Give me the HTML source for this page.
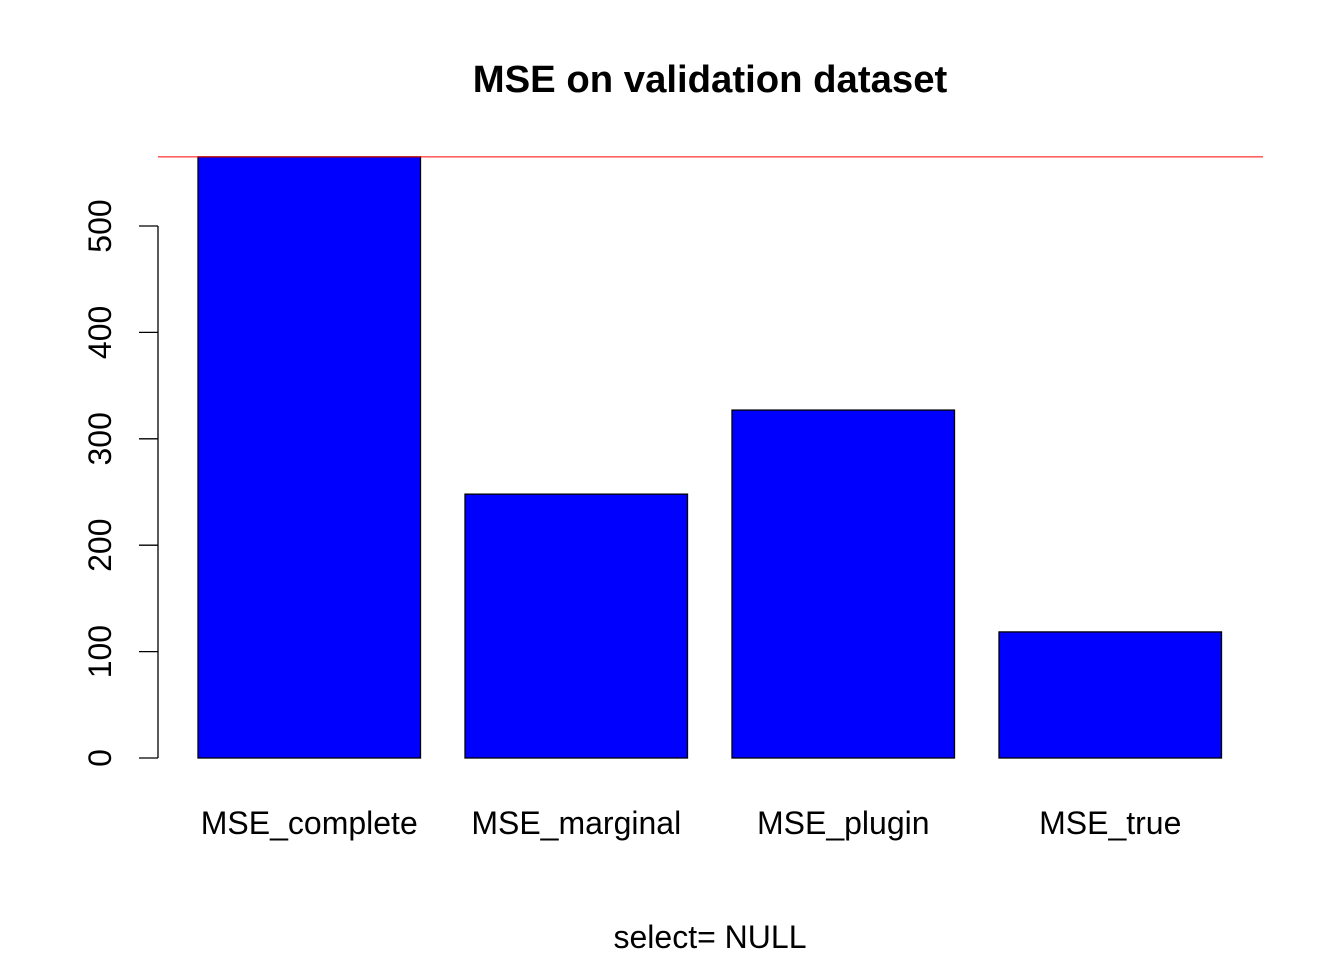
<!DOCTYPE html>
<html><head><meta charset="utf-8"><style>
body{margin:0;background:#fff}
svg text{font-family:"Liberation Sans",Arial,sans-serif;fill:#000}
</style></head><body>
<svg id="chart" width="1344" height="960" xmlns="http://www.w3.org/2000/svg">
<text x="710" y="92" text-anchor="middle" font-size="38.3" font-weight="bold">MSE on validation dataset</text>
<text x="710" y="948" text-anchor="middle" font-size="32">select= NULL</text>
<g id="bars"></g><g id="yaxis"></g><g id="xlabels"></g>
</svg>
<script>
const categories=["MSE_complete","MSE_marginal","MSE_plugin","MSE_true"];
const values=[565,248,327,118.5];
const yTicks=[0,100,200,300,400,500];
const refLine=565;
const NS="http://www.w3.org/2000/svg";
const y0=758, pxPerUnit=532/500;
const yS=v=>y0-v*pxPerUnit;
const xS=u=>153.5+u*222.5;
function mk(t,a,p){const e=document.createElementNS(NS,t);for(const k in a)e.setAttribute(k,a[k]);p.appendChild(e);return e;}
const bars=document.getElementById('bars');
values.forEach((v,i)=>{
  const l=0.2+i*1.2;
  const r=mk('rect',{x:xS(l),y:yS(v),width:xS(l+1)-xS(l),height:y0-yS(v),fill:'#0000ff',stroke:'#000','stroke-width':1.3},bars);
  
  
  const t=mk('text',{x:(xS(l)+xS(l+1))/2,y:834,'text-anchor':'middle','font-size':32},document.getElementById('xlabels'));
  t.textContent=categories[i];
  
  
});
const ya=document.getElementById('yaxis');
const al=mk('line',{x1:158,x2:158,y1:yS(yTicks[yTicks.length-1]),y2:yS(0),stroke:'#000','stroke-width':1.3},ya);


yTicks.forEach(v=>{
  const tk=mk('line',{x1:139,x2:158,y1:yS(v),y2:yS(v),stroke:'#000','stroke-width':1.3},ya);
  
  
  const t=mk('text',{x:0,y:0,transform:`translate(111,${yS(v)}) rotate(-90)`,'text-anchor':'middle','font-size':32},ya);
  t.textContent=v;
  
  
});
const rl=mk('line',{x1:158,x2:1263,y1:yS(refLine),y2:yS(refLine),stroke:'#ff0000','stroke-width':1},document.getElementById('chart'));


</script>
</body></html>
